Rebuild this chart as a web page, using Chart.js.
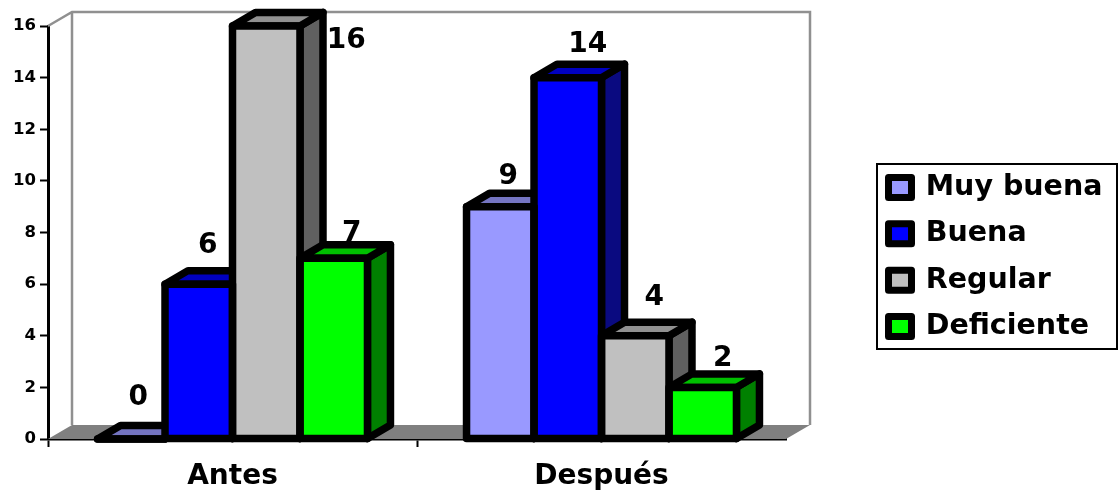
<!DOCTYPE html>
<html>
<head>
<meta charset="utf-8">
<style>html,body{margin:0;padding:0;background:#fff}canvas{display:block}</style>
<script src="https://cdn.jsdelivr.net/npm/chart.js@4"></script>
</head>
<body>
<canvas id="c" width="1118" height="491"></canvas>
<script>
const categories = ["Antes", "Después"];
const seriesNames = ["Muy buena", "Buena", "Regular", "Deficiente"];
const muyBuena = [0, 9];
const buena = [6, 14];
const regular = [16, 4];
const deficiente = [7, 2];
const frontColors = ["#9999FF", "#0000FF", "#C0C0C0", "#00FF00"];
const topColors = ["#7474C1", "#0000C0", "#919191", "#00C000"];
const sideColors = ["#4D4D80", "#0A0A80", "#606060", "#008000"];

// Hand-placed label nudges from the bar centre/top, [series][category]
const labelNudges = [
  [[7, -41], [8, -30]],
  [[9, -38], [20, -33]],
  [[80, 15], [19, -38]],
  [[18, -25], [20, -29]]
];
const FONT = '"DejaVu Sans"';
const WALL = { dx: 24, dy: -14 };
const BAR = { dx: 23, dy: -13.5, line: 7.5 };

function path(ctx, pts) {
  ctx.beginPath();
  pts.forEach((p, i) => i ? ctx.lineTo(p[0], p[1]) : ctx.moveTo(p[0], p[1]));
  ctx.closePath();
}

const box3d = {
  id: 'box3d',
  afterLayout(chart) {
    const l = chart.legend;
    l.left = 870.6; l.top = 155.25; l.right = 1118; l.bottom = 360;
    l.width = l.right - l.left; l.height = l.bottom - l.top;
  },
  beforeDatasetsDraw(chart) {
    const { ctx, chartArea: a } = chart;
    ctx.save();
    // floor
    ctx.fillStyle = '#808080';
    path(ctx, [[a.left, a.bottom], [a.left + WALL.dx, a.bottom + WALL.dy], [a.right + WALL.dx, a.bottom + WALL.dy], [a.right, a.bottom]]);
    ctx.fill();
    // walls
    ctx.strokeStyle = '#909090';
    ctx.lineWidth = 2.5;
    ctx.lineJoin = 'miter';
    ctx.beginPath();
    ctx.moveTo(a.left, a.top);
    ctx.lineTo(a.left + WALL.dx, a.top + WALL.dy);
    ctx.lineTo(a.right + WALL.dx, a.top + WALL.dy);
    ctx.lineTo(a.right + WALL.dx, a.bottom + WALL.dy);
    ctx.moveTo(a.left + WALL.dx, a.top + WALL.dy);
    ctx.lineTo(a.left + WALL.dx, a.bottom + WALL.dy);
    ctx.stroke();

    // value labels sit behind the boxes
    ctx.fillStyle = '#000';
    ctx.font = 'bold 28px ' + FONT;
    ctx.textAlign = 'center';
    ctx.textBaseline = 'middle';
    chart.data.datasets.forEach((ds, d) => {
      chart.getDatasetMeta(d).data.forEach((bar, c) => {
        const n = labelNudges[d][c];
        ctx.fillText(String(ds.data[c]), bar.x + n[0], bar.y + n[1]);
      });
    });

    // side and top faces, left to right
    ctx.strokeStyle = '#000';
    ctx.lineWidth = BAR.line;
    ctx.lineJoin = 'round';
    categories.forEach((_, c) => {
      chart.data.datasets.forEach((ds, d) => {
        const bar = chart.getDatasetMeta(d).data[c];
        const L = bar.x - bar.width / 2, R = bar.x + bar.width / 2, T = bar.y, B = bar.base;
        if (T < B) {
          ctx.fillStyle = sideColors[d];
          path(ctx, [[R, T], [R + BAR.dx, T + BAR.dy], [R + BAR.dx, B + BAR.dy], [R, B]]);
          ctx.fill(); ctx.stroke();
        }
        ctx.fillStyle = topColors[d];
        path(ctx, [[L, T], [L + BAR.dx, T + BAR.dy], [R + BAR.dx, T + BAR.dy], [R, T]]);
        ctx.fill(); ctx.stroke();
      });
    });
    ctx.restore();
  },
  afterDatasetsDraw(chart) {
    const { ctx } = chart;
    ctx.save();
    ctx.strokeStyle = '#000';
    ctx.lineWidth = BAR.line;
    ctx.lineJoin = 'round';
    chart.data.datasets.forEach((ds, d) => {
      chart.getDatasetMeta(d).data.forEach(bar => {
        ctx.strokeRect(bar.x - bar.width / 2, bar.y, bar.width, bar.base - bar.y);
      });
    });
    ctx.restore();
  },
  afterDraw(chart) {
    const { ctx } = chart;
    ctx.save();
    ctx.strokeStyle = '#000';
    ctx.lineWidth = 2;
    ctx.strokeRect(877, 164, 240, 185);
    ctx.restore();
  }
};

new Chart(document.getElementById('c'), {
  type: 'bar',
  data: {
    labels: categories,
    datasets: [muyBuena, buena, regular, deficiente].map((values, i) => ({
      label: seriesNames[i],
      data: values,
      backgroundColor: frontColors[i],
      borderWidth: 0,
      barPercentage: 1,
      categoryPercentage: 0.7315
    }))
  },
  options: {
    responsive: false,
    animation: false,
    devicePixelRatio: 1,
    layout: { padding: { left: 0, top: 26, right: 332, bottom: 0 } },
    plugins: {
      tooltip: { enabled: false },
      title: { display: false },
      legend: {
        position: 'chartArea',
        align: 'start',
        labels: {
          boxWidth: 23,
          boxHeight: 20,
          padding: 17.9,
          color: '#000',
          font: { family: FONT, weight: 'bold', size: 28.5 },
          generateLabels: chart => chart.data.datasets.map((ds, i) => ({
            text: ds.label,
            fillStyle: frontColors[i],
            strokeStyle: '#000',
            lineWidth: 7,
            lineJoin: 'round',
            fontColor: '#000',
            datasetIndex: i
          }))
        }
      }
    },
    scales: {
      x: {
        afterFit: s => { s.height = 52; },
        border: { display: true, color: '#000', width: 2.5 },
        grid: {
          display: true,
          drawOnChartArea: false,
          drawTicks: true,
          tickLength: 8,
          tickWidth: 2,
          tickColor: ctx => ctx.tick ? '#000' : 'rgba(0,0,0,0)'
        },
        ticks: {
          color: '#000',
          padding: 13,
          maxRotation: 0,
          font: { family: FONT, weight: 'bold', size: 28 }
        }
      },
      y: {
        min: 0,
        max: 16,
        afterFit: s => { s.width = 48; },
        border: { display: true, color: '#000', width: 3 },
        grid: { display: true, drawOnChartArea: false, tickLength: 8, tickWidth: 2, tickColor: '#000' },
        ticks: {
          stepSize: 2,
          color: '#000',
          padding: 4,
          font: { family: FONT, weight: 'bold', size: 16.5 }
        }
      }
    }
  },
  plugins: [box3d]
});
</script>
</body>
</html>
